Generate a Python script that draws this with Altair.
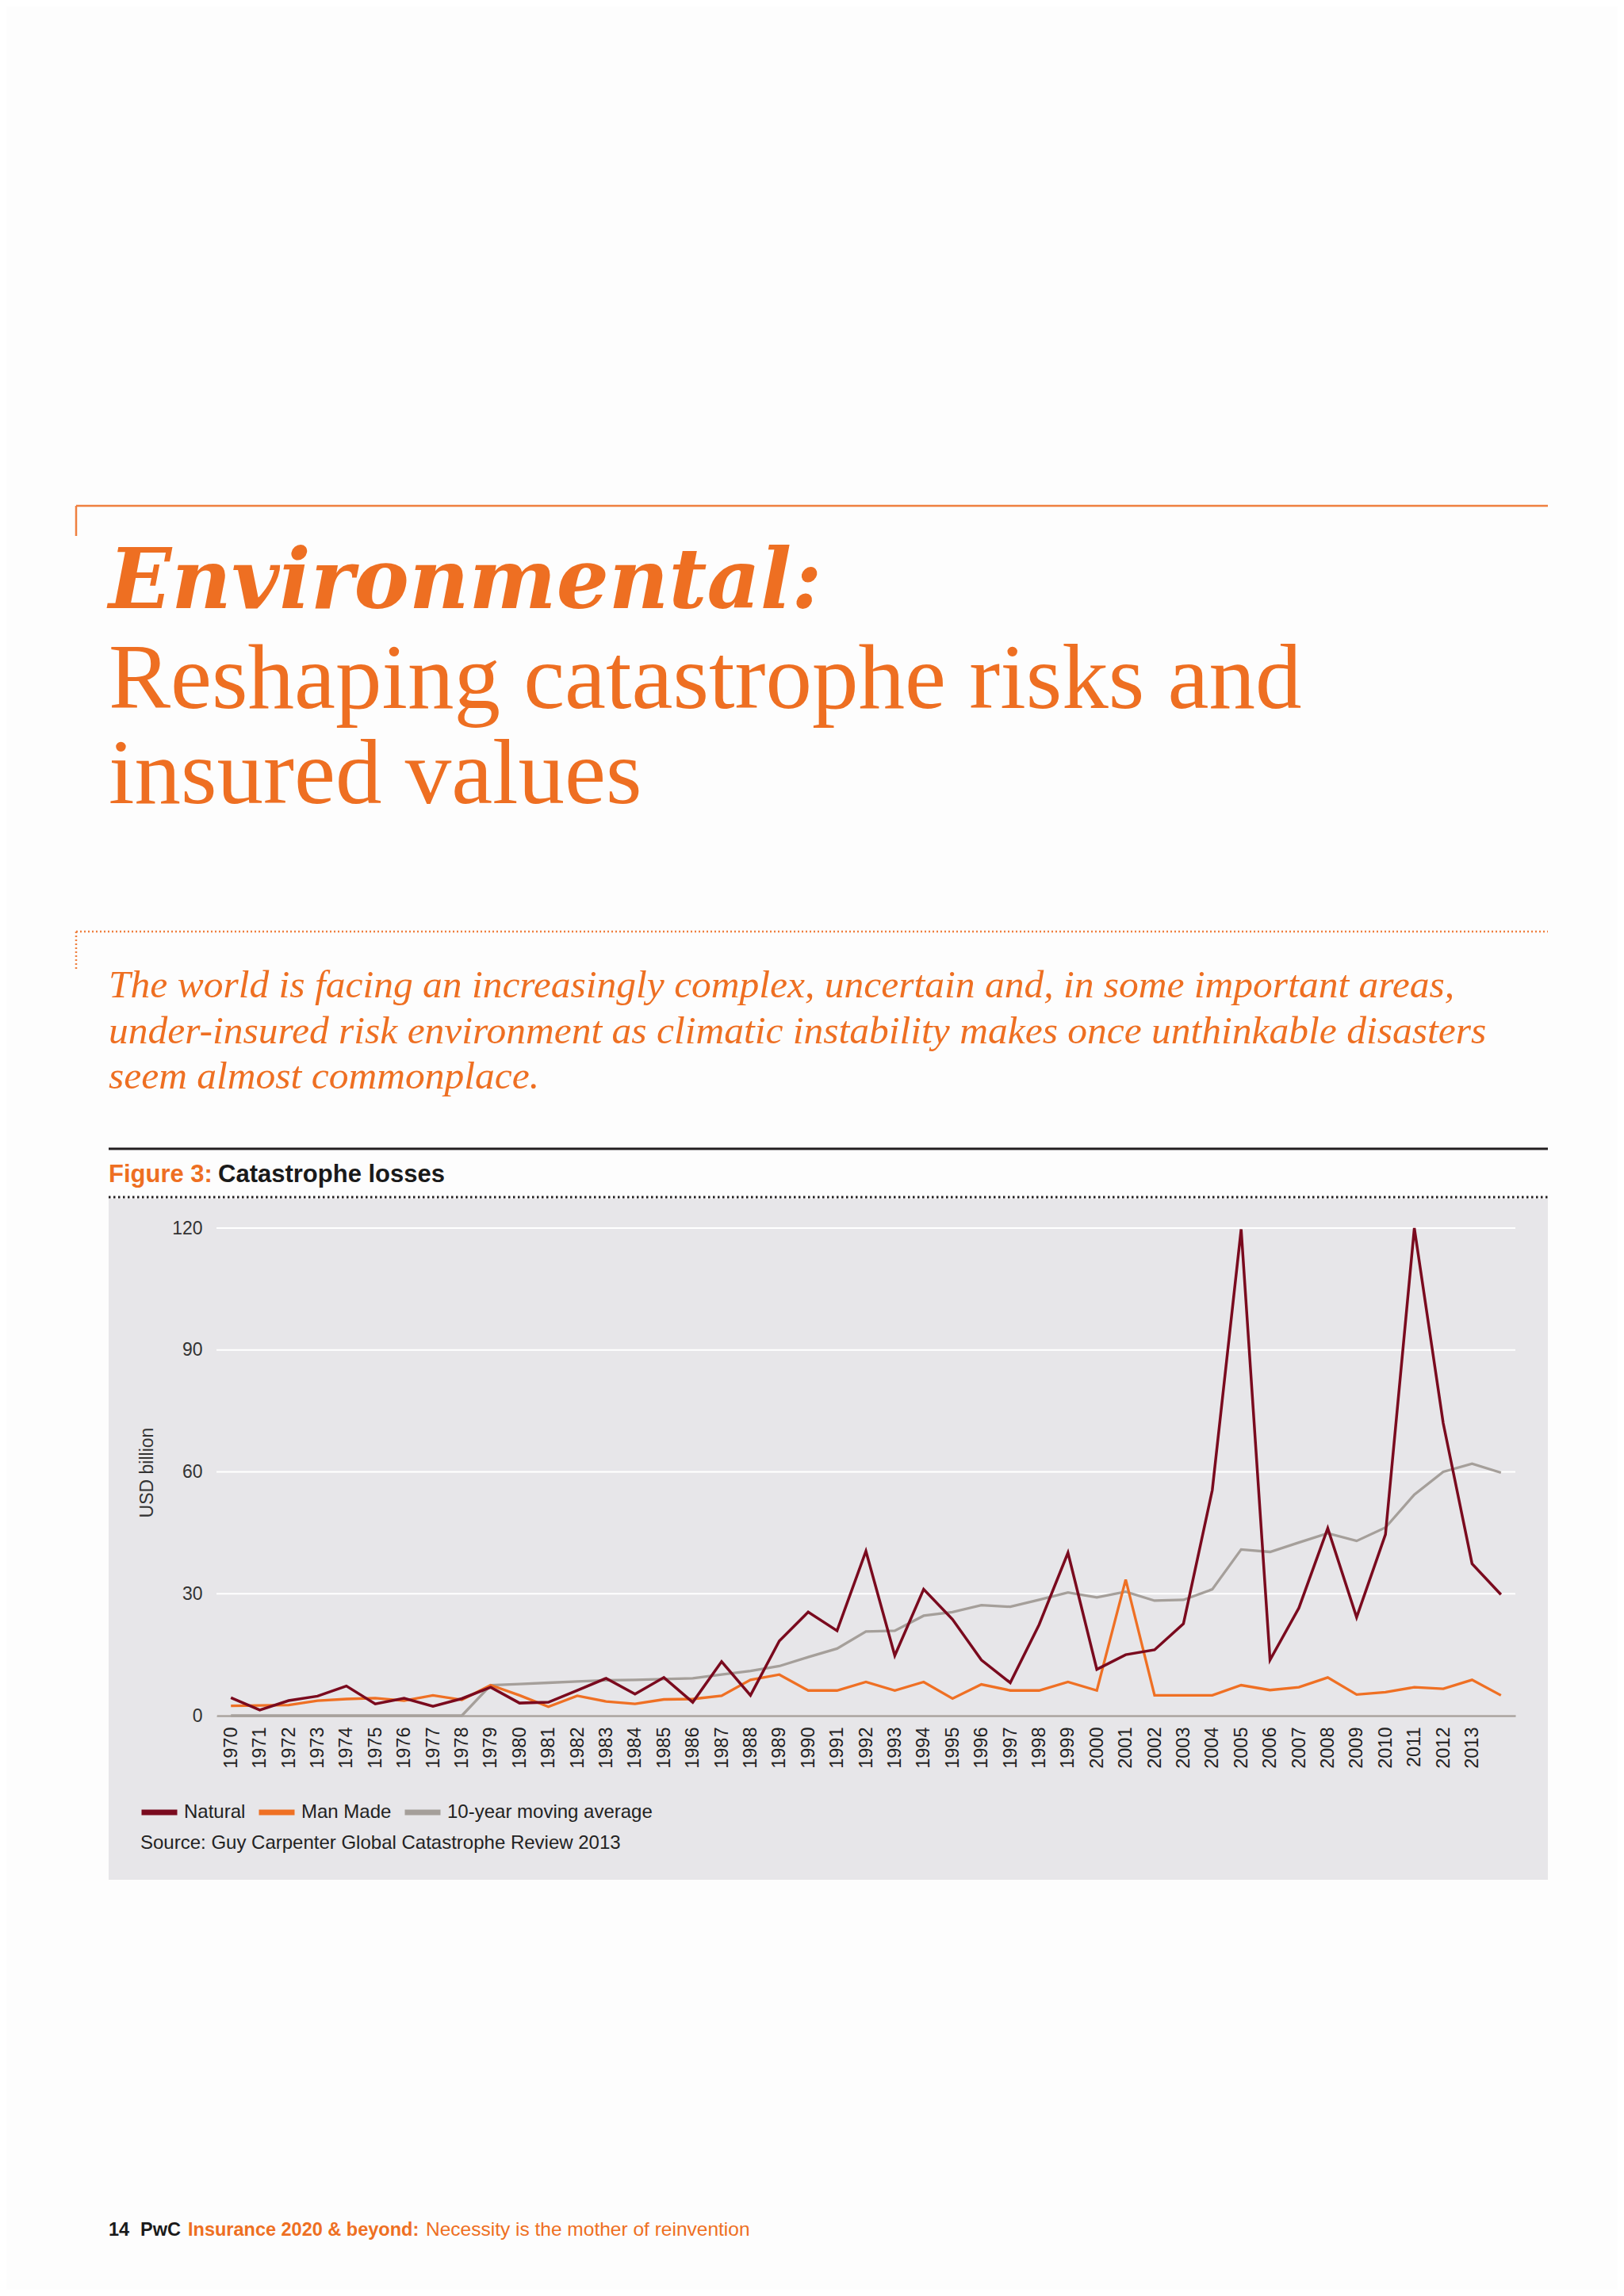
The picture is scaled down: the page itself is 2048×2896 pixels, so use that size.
import altair as alt
import pandas as pd

# ---------------- data ----------------
YEARS = [str(y) for y in range(1970, 2015)]
NATURAL = [4.4, 1.4, 3.7, 4.8, 7.3, 2.9, 4.3, 2.3, 4.2, 7.0,
           3.1, 3.3, 6.2, 9.2, 5.3, 9.4, 3.3, 13.3, 5.0, 18.4,
           25.5, 20.9, 40.5, 14.8, 31.1, 23.7, 13.7, 8.1, 22.4, 40.1,
           11.4, 15.0, 16.2, 22.6, 55.5, 119.7, 13.7, 26.5, 46.1, 24.2,
           44.6, 120.0, 72.0, 37.4, 29.8]
MAN_MADE = [2.4, 2.5, 2.6, 3.7, 4.1, 4.3, 3.7, 5.0, 3.9, 7.5,
            5.0, 2.2, 4.9, 3.5, 2.9, 4.0, 4.1, 4.9, 8.8, 10.1,
            6.2, 6.2, 8.3, 6.2, 8.3, 4.2, 7.7, 6.2, 6.2, 8.3,
            6.2, 33.5, 5.0, 5.0, 5.0, 7.5, 6.3, 7.0, 9.4, 5.2,
            5.8, 7.0, 6.6, 8.8, 5.0]
MOVING_AVG = [0, 0, 0, 0, 0, 0, 0, 0, 0, 7.5,
              7.8, 8.1, 8.4, 8.7, 8.8, 9.0, 9.2, 10.1, 11.0, 12.2,
              14.4, 16.5, 20.7, 20.9, 24.6, 25.5, 27.2, 26.8, 28.5, 30.3,
              29.1, 30.5, 28.3, 28.5, 31.1, 40.9, 40.3, 42.6, 44.9, 43.0,
              46.3, 54.4, 60.0, 62.0, 59.8]
SERIES = ["Natural", "Man Made", "10-year moving average"]
COLORS = ["#7a0a1e", "#ef7024", "#a59f9a"]
Y_TICKS = [0, 30, 60, 90, 120]

rows = []
for name, vals in zip(SERIES, [NATURAL, MAN_MADE, MOVING_AVG]):
    for yr, v in zip(YEARS, vals):
        rows.append({"Year": yr, "Series": name, "Value": v})
df = pd.DataFrame(rows)

# ---------------- layout helpers (page pixels -> chart pixels) ----------------
OX, OY = 273, 1549
W, H = 1638, 615


def px(x):
    return x - OX


def py(y):
    return y - OY


one = pd.DataFrame({"k": [0]})
ORANGE = "#ee6f22"
SANS = "Liberation Sans"
SERIF = "Liberation Serif"


def rect(x1, x2, y1, y2, color):
    return alt.Chart(one).mark_rect(color=color).encode(
        x=alt.value(px(x1)), x2=alt.value(px(x2)),
        y=alt.value(py(y1)), y2=alt.value(py(y2)))


def hline(x1, x2, y, color, width, dash=None):
    kw = dict(color=color, strokeWidth=width)
    if dash:
        kw["strokeDash"] = dash
    return alt.Chart(one).mark_rule(**kw).encode(
        x=alt.value(px(x1)), x2=alt.value(px(x2)), y=alt.value(py(y)))


def vline(x, y1, y2, color, width, dash=None):
    kw = dict(color=color, strokeWidth=width)
    if dash:
        kw["strokeDash"] = dash
    return alt.Chart(one).mark_rule(**kw).encode(
        x=alt.value(px(x)), y=alt.value(py(y1)), y2=alt.value(py(y2)))


def txt(s, x, y, size, color, font=SANS, weight="normal", style="normal"):
    return alt.Chart(one).mark_text(
        text=s, font=font, fontSize=size, color=color, fontWeight=weight,
        fontStyle=style, align="left", baseline="alphabetic").encode(
        x=alt.value(px(x)), y=alt.value(py(y)))


# ---------------- encodings ----------------
Y_ENC = alt.Y("Value:Q",
              scale=alt.Scale(domain=[0, 120], nice=False, zero=True),
              axis=alt.Axis(values=Y_TICKS, grid=False, domain=False, ticks=False,
                            labelPadding=18, labelFontSize=23, labelFont=SANS,
                            labelColor="#333333", zindex=1,
                            title="USD billion", titleX=px(185), titleY=py(1857),
                            titleAngle=270, titleAlign="center", titleBaseline="middle",
                            titleFontSize=23, titleFontWeight="normal", titleFont=SANS,
                            titleColor="#333333"))
X_ENC = alt.X("Year:O", sort=YEARS,
              scale=alt.Scale(type="point", padding=0.5),
              axis=alt.Axis(labelAngle=270, ticks=False, labelOverlap=False,
                            labelExpr="datum.value == '2014' ? '' : datum.label",
                            domainColor="#a8a29d", domainWidth=2.5,
                            labelPadding=14, labelFontSize=23.5, labelFont=SANS,
                            labelColor="#222222", title=None, zindex=1))
C_ENC = alt.Color("Series:N",
                  scale=alt.Scale(domain=SERIES, range=COLORS),
                  legend=alt.Legend(orient="none", legendX=px(175), legendY=py(2260),
                                    direction="horizontal", symbolType="stroke",
                                    symbolSize=2025, symbolStrokeWidth=7,
                                    labelFontSize=24, labelFont=SANS, labelColor="#222222",
                                    labelOffset=5, columnPadding=2, padding=0,
                                    labelLimit=500, title=None, zindex=1))

grid = alt.Chart(pd.DataFrame({"Value": Y_TICKS})).mark_rule(
    color="white", strokeWidth=2).encode(y=Y_ENC)


def series_line(name, width):
    return alt.Chart(df[df["Series"] == name]).mark_line(
        strokeWidth=width, strokeJoin="miter").encode(x=X_ENC, y=Y_ENC, color=C_ENC)


layers = [
    rect(8, 2040, 8, 2888, "#fdfdfd"),
    rect(137, 1952, 1512, 2371, "#e7e6e9"),
    hline(96, 1952, 638, "#ef8040", 2.5),
    vline(96, 638, 676, "#ef8040", 2.5),
    hline(96, 1952, 1175, "#ef8040", 2.5, [2, 3]),
    vline(96, 1175, 1222, "#ef8040", 2.5, [2, 3]),
    hline(137, 1952, 1449, "#231f20", 3),
    hline(137, 1952, 1510, "#231f20", 3, [2.5, 3.5]),
    txt("Environmental:", 137, 767, 104, ORANGE, "DejaVu Serif", "bold", "italic"),
    txt("Reshaping catastrophe risks and", 137, 893, 117, ORANGE, SERIF),
    txt("insured values", 137, 1013, 117, ORANGE, SERIF),
    txt("The world is facing an increasingly complex, uncertain and, in some important areas,",
        137, 1258, 49.5, ORANGE, SERIF, "normal", "italic"),
    txt("under-insured risk environment as climatic instability makes once unthinkable disasters",
        137, 1316, 49.5, ORANGE, SERIF, "normal", "italic"),
    txt("seem almost commonplace.", 137, 1373, 49.5, ORANGE, SERIF, "normal", "italic"),
    txt("Figure 3:", 137, 1491, 31, ORANGE, SANS, "bold"),
    txt("Catastrophe losses", 275, 1491, 31, "#1a1a1a", SANS, "bold"),
    grid,
    series_line("10-year moving average", 3.3),
    series_line("Man Made", 3.3),
    series_line("Natural", 3.5),
    txt("Source: Guy Carpenter Global Catastrophe Review 2013", 177, 2332, 24, "#222222"),
    txt("14", 137, 2820, 23.5, "#1a1a1a", SANS, "bold"),
    txt("PwC", 177, 2820, 23.5, "#1a1a1a", SANS, "bold"),
    txt("Insurance 2020 & beyond:", 237, 2820, 23.5, ORANGE, SANS, "bold"),
    txt("Necessity is the mother of reinvention", 537, 2820, 24.5, ORANGE, SANS),
]

chart = alt.layer(*layers).properties(
    width=W, height=H, padding=0, background="#fdfdfd"
).configure_view(strokeWidth=0)

chart.save("out.html", embed_options={"renderer": "svg", "actions": False})
